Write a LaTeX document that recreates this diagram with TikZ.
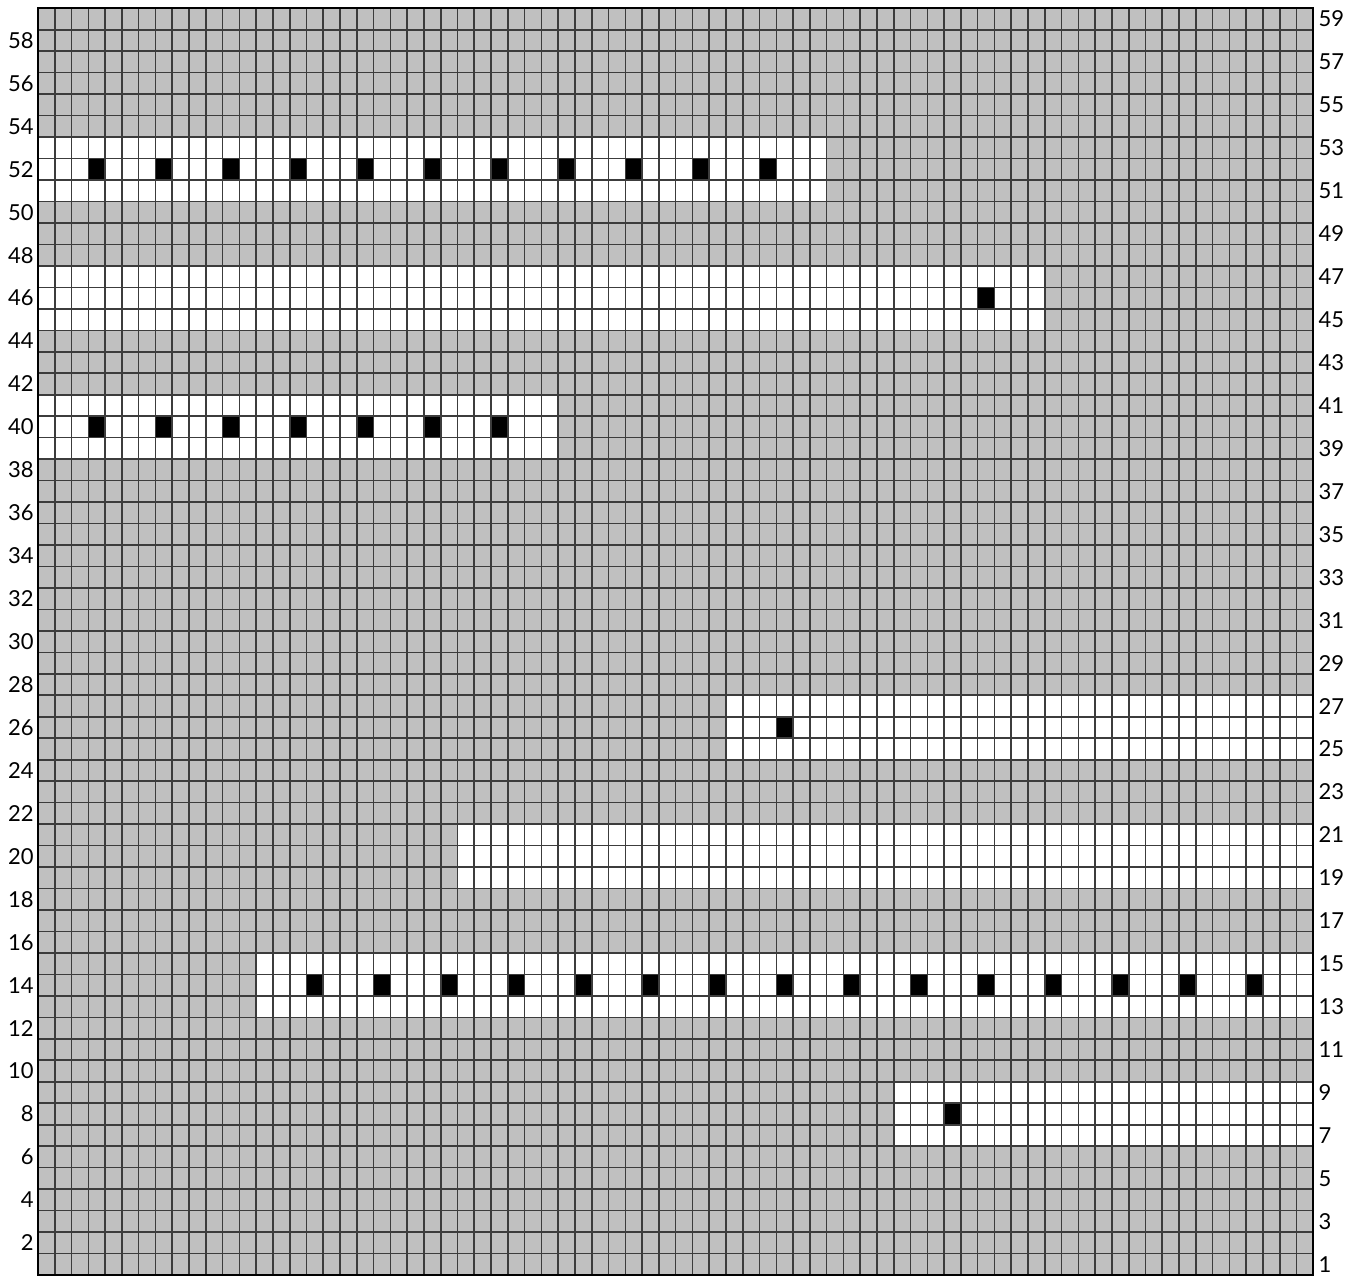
\documentclass[tikz,border=0pt]{standalone}
\usepackage{fontspec}
\setmainfont{Lato}
\definecolor{chartgray}{HTML}{C0C0C0}
\definecolor{gridgray}{HTML}{3C3C3C}
\tikzset{
  rowlabel/.style={font=\fontsize{22}{22}\selectfont, inner sep=0pt},
  stitch/.style={fill=black},
}
\begin{document}
\begin{tikzpicture}[x=16.78pt, y=21.47pt]
    \useasboundingbox (-2.2646,-0.0932) rectangle (78.725,59.385);
    % grey ground
    \fill[chartgray] (0,0) rectangle (76,59);

    % white bands (left col, right col, bottom line)
    \foreach \a/\b/\r in {0/47/50, 0/60/44, 0/31/38, 41/76/24, 25/76/18, 13/76/12, 51/76/6}
        \fill[white] (\a,\r) rectangle (\b,\r+3);

    % black stitches
    \foreach \c in {3,7,...,43} \fill[stitch] (\c,51) rectangle ++(1,1);
    \fill[stitch] (56,45) rectangle ++(1,1);
    \foreach \c in {3,7,...,27} \fill[stitch] (\c,39) rectangle ++(1,1);
    \fill[stitch] (44,25) rectangle ++(1,1);
    \foreach \c in {16,20,...,72} \fill[stitch] (\c,13) rectangle ++(1,1);
    \fill[stitch] (54,7) rectangle ++(1,1);

    % grid
    \draw[gridgray, line width=1.6pt, step=1] (0,0) grid (76,59);
    \draw[black, line width=1.6pt] (0,0) rectangle (76,59);

    % row numbers
    \foreach \r in {2,4,...,58}
        \node[rowlabel, anchor=east] (left\r) at (-0.25,\r-0.5) {\r};
    \foreach \r in {1,3,...,59}
        \node[rowlabel, anchor=west] (right\r) at (76.3,\r-0.5) {\r};
\end{tikzpicture}
\end{document}
